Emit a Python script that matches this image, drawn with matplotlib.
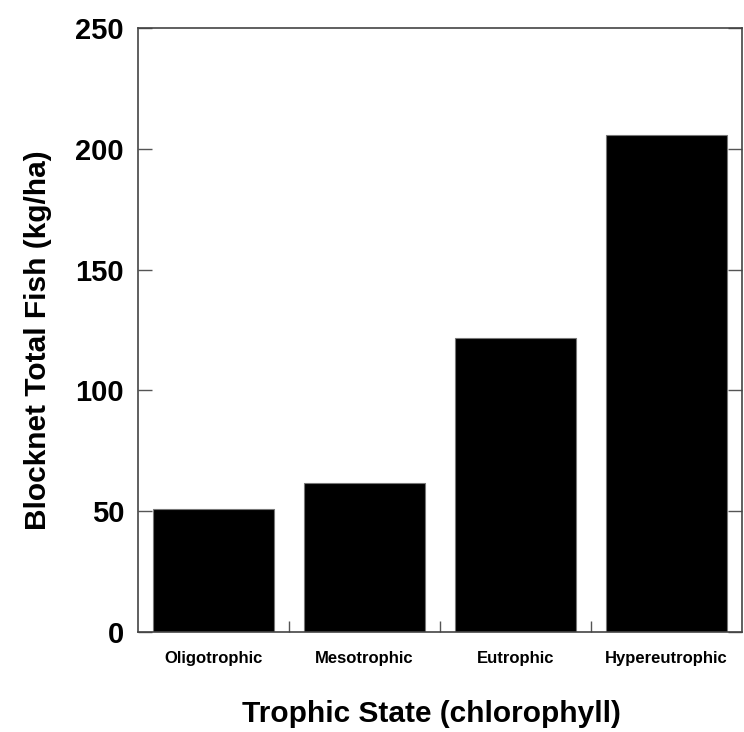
import numpy as np
import matplotlib
matplotlib.use('Agg')
import matplotlib.pyplot as plt

#chart values
categories = ['Oligotrophic', 'Mesotrophic', 'Eutrophic', 'Hypereutrophic']
fish = [50.8, 61.8, 121.7, 205.6]
yticks = [0, 50, 100, 150, 200, 250]

plt.rcParams['font.family'] = ['Liberation Sans', 'DejaVu Sans']
plt.rcParams['font.weight'] = 'bold'

fig = plt.figure(figsize=(7.44, 7.32), dpi=100)
ax = fig.add_axes([0.1855, 0.1366, 0.8118, 0.8251])

x = np.arange(len(categories))
ax.bar(x, fish, width=0.8, color='black', edgecolor='#777777', linewidth=0.8)

ax.set_xlim(-0.5, len(categories) - 0.5)
ax.set_ylim(0, 250)

#y ticks in on both sides
ax.set_yticks(yticks)
ax.set_yticklabels([str(v) for v in yticks], fontsize=21, fontweight='bold')
ax.tick_params(axis='y', direction='in', length=10, width=1, color='#555555',
               right=True, pad=10)

#x ticks sit between bars, labels centred under bars
ax.set_xticks(x[:-1] + 0.5)
ax.set_xticklabels([])
ax.set_xticks(x, minor=True)
ax.set_xticklabels(categories, minor=True, fontsize=12, fontweight='bold')
ax.tick_params(axis='x', which='major', direction='in', length=8, width=1, color='#555555')
ax.tick_params(axis='x', which='minor', length=0, pad=14)

for s in ax.spines.values():
    s.set_color('#444444')
    s.set_linewidth(1.2)

ax.set_ylabel('Blocknet Total Fish (kg/ha)', fontsize=21.5, fontweight='bold')
ax.set_xlabel('Trophic State (chlorophyll)', fontsize=21.5, fontweight='bold')
ax.yaxis.set_label_coords(-0.142, 0.483)
ax.xaxis.set_label_coords(0.485, -0.112)

plt.savefig('out.png', dpi=100)
